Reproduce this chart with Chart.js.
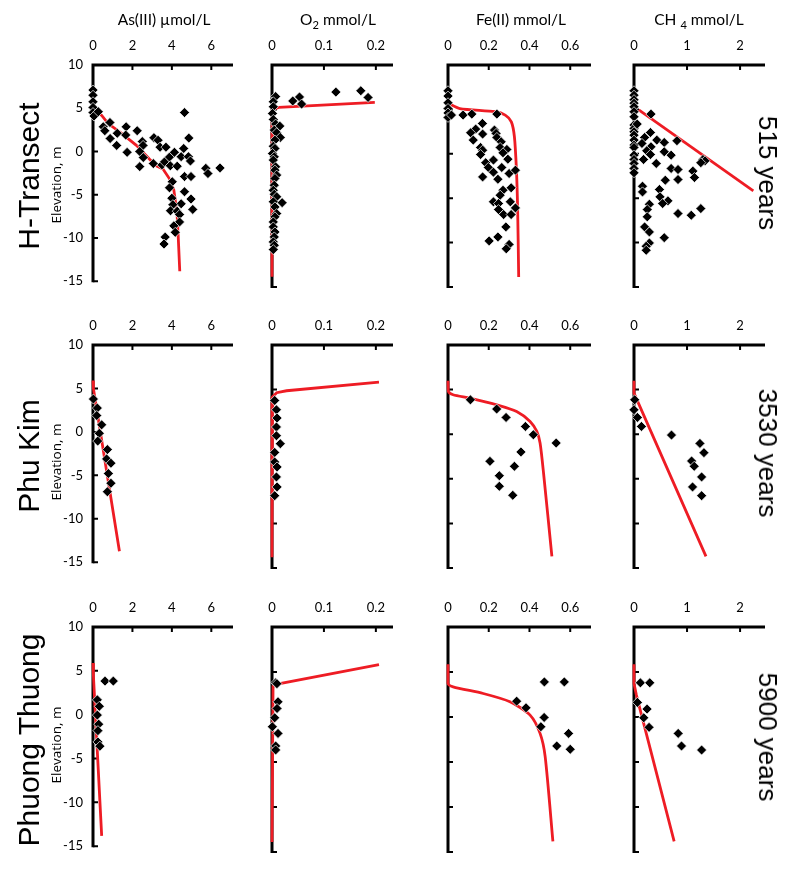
<!DOCTYPE html>
<html>
<head>
<meta charset="utf-8">
<script src="https://cdn.jsdelivr.net/npm/chart.js@4.4.1/dist/chart.umd.min.js"></script>
<style>
  html, body { margin: 0; padding: 0; background: #fff; }
  #fig { position: relative; width: 800px; height: 869px; overflow: hidden;
         font-family: Lato, "Open Sans", sans-serif; color: #000; }
  #fig canvas { position: absolute; }
  .lbl { position: absolute; white-space: nowrap; line-height: 1;
         transform: translate(-50%, -50%); }
  .rot { transform: translate(-50%, -50%) rotate(-90deg); }
  .rot90 { transform: translate(-50%, -50%) rotate(90deg); }
  .title { font-size: 15.5px; }
  .site { font-family: "Liberation Sans", Arial, sans-serif; font-size: 30px; }
  .age { font-family: "Liberation Sans", Arial, sans-serif; font-size: 26px; }
  .elev { font-family: "Open Sans", sans-serif; font-size: 13.5px; }
  sub { font-size: 72%; vertical-align: -0.3em; line-height: 0; }
</style>
</head>
<body>
<div id="fig"></div>
<script>
// ============================================================
//  Pore-water profiles: 3 sites x 4 species, points + model line
//  every pair is [concentration, elevation m]
// ============================================================

// --- labels / ticks ---
const columnTitles = ["As(III) \u00b5mol/L", "O<sub>2</sub> mmol/L", "Fe(II) mmol/L", "CH <sub>4</sub> mmol/L"];
const siteNames = ["H-Transect", "Phu Kim", "Phuong Thuong"];
const siteAges = ["515 years", "3530 years", "5900 years"];
const xTickValues = [[0, 2, 4, 6], [0, 0.1, 0.2], [0, 0.2, 0.4, 0.6], [0, 1, 2]];
const xTickLabels = [["0", "2", "4", "6"], ["0", "0.1", "0.2"], ["0", "0.2", "0.4", "0.6"], ["0", "1", "2"]];
const xMax = [7.1, 0.233, 0.702, 2.47];
const yTickValues = [10, 5, 0, -5, -10, -15];
const yMin = -15, yMax = 10;

// --- H-Transect (515 years) ---
const hAs = [[0,7.1],[0,6.5],[0,5.75],[0,5.1],[0,4.5],[0.05,4.1],[0.27,4.6],[4.64,4.5],[0.86,3.35],[0.52,2.85],
  [0.6,2.4],[1.68,2.85],[2.24,2.4],[1.23,2.1],[0.87,1.5],[1.66,1.9],[1.2,0.7],[1.73,-0.1],[2.5,1.15],[2.54,0.7],
  [2.37,0],[2.37,-1.75],[2.55,-0.7],[3.09,1.6],[3.3,1.3],[3.4,0.5],[3.7,0.5],[3.06,-1.4],[3.5,-1.55],[3.63,-1.2],
  [3.88,-0.65],[4.13,-0.1],[3.92,-1.65],[4.27,-1.7],[4.6,0.35],[4.47,-0.6],[4.84,-0.6],[4.94,-1.1],[4.86,1.55],
  [4.64,-2.9],[4.97,-2.9],[5.72,-1.95],[5.83,-2.55],[6.44,-1.9],[4.02,-3.5],[3.88,-4.2],[4.64,-4.65],[4.0,-5.4],
  [4.47,-6.05],[4.97,-5.5],[5.06,-6.7],[4.05,-6.15],[3.93,-6.85],[4.27,-6.9],[4.39,-7.3],[4.39,-8.15],[4.1,-8.6],
  [4.17,-9.35],[3.66,-9.9],[3.6,-10.7]];
const hAsFit = [[0,5.1],[0.44,4.17],[0.77,3.23],[1.45,2.1],[2.2,0.71],[2.87,-0.9],[3.21,-1.65],[3.55,-2.03],
  [3.88,-3.16],[4.1,-4.47],[4.17,-5.6],[4.27,-7.48],[4.3,-9.2],[4.32,-9.74],[4.4,-13.85]];
const hO2 = [[0.007,6.45],[0.04,5.95],[0.053,6.4],[0.057,5.6],[0.123,6.95],[0.171,7.1],[0.185,6.35],
  [0.0025,5.86],[0.0025,5.3],[0.001,4.55],[0.0025,3.87],[0.007,3.35],[0.015,3.12],[0.0044,2.67],[0.009,2.37],
  [0.016,1.84],[0.0057,1.54],[0.0025,0.86],[0.0057,0.6],[0.001,0.04],[0.0044,-0.34],[0.0025,-0.71],[0.007,-1.47],
  [0.0057,-1.84],[0.009,-2.4],[0.0057,-2.78],[0.0044,-3.53],[0.0025,-4.1],[0.0044,-4.55],[0.009,-4.85],
  [0.0025,-5.4],[0.0195,-5.5],[0.0057,-5.98],[0.009,-6.73],[0.0057,-7.1],[0.0025,-7.67],[0.0025,-8.23],
  [0.0057,-8.8],[0.0044,-9.36],[0.0025,-9.92],[0.0044,-10.3],[0.0025,-10.79]];
const hO2Fit = [[0.198,5.8],[0.013,5.22],[0.001,5.0],[0,-13.85]];
const hFe = [[0,7.1],[0,6.5],[0,5.75],[0,5.1],[0,4.6],[0,4.1],[0.017,4.36],[0.074,4.36],[0.117,4.47],[0.24,4.47],
  [0.169,3.42],[0.136,2.78],[0.111,2.37],[0.17,2.22],[0.124,1.54],[0.228,2.67],[0.236,2.3],[0.24,1.84],
  [0.261,1.35],[0.16,0.71],[0.17,0.41],[0.16,-0.08],[0.256,0.71],[0.289,0.49],[0.27,0.11],[0.294,-0.6],
  [0.223,-0.71],[0.185,-1.0],[0.198,-1.54],[0.264,-1.54],[0.223,-2.07],[0.3,-2.22],[0.331,-1.84],[0.17,-2.6],
  [0.245,-2.86],[0.27,-4.1],[0.31,-3.83],[0.256,-4.66],[0.223,-5.41],[0.248,-5.6],[0.306,-5.41],[0.331,-6.09],
  [0.248,-6.28],[0.273,-6.84],[0.31,-6.84],[0.284,-8.23],[0.245,-9.36],[0.202,-9.81],[0.3,-10.2],[0.286,-10.7]];
const hFeFit = [[0,5.7],[0.058,5.1],[0.231,4.74],[0.281,4.36],[0.311,3.6],[0.326,1.92],[0.336,-1.84],
  [0.342,-6.35],[0.347,-13.87]];
const hCh4 = [[0,7.1],[0,6.6],[0,6.1],[0,5.7],[0,5.3],[0,4.74],[0,4.17],[0,3.23],[0,2.86],[0,2.48],[0,2.1],
  [0,1.54],[0,0.98],[0,0.71],[0,-0.15],[0,-0.64],[0,-1.09],[0,-1.65],[0,-2.14],
  [0.32,4.47],[0.06,3.35],[0.31,2.4],[0.2,1.84],[0.43,1.54],[0.57,1.28],[0.81,1.47],[0.15,1.17],[0.32,0.79],
  [0.24,0.34],[0.57,0.23],[0.7,-0.15],[0.31,-0.08],[0.18,-0.64],[0.42,-1.09],[0.7,-1.65],[0.83,-1.77],
  [0.83,-2.9],[0.59,-2.97],[1.11,-1.95],[1.14,-2.67],[1.3,-0.64],[1.34,-0.79],[1.26,-1.0],[0.16,-3.65],
  [0.16,-4.29],[0.48,-4.02],[0.49,-4.85],[0.64,-5.3],[0.54,-5.6],[0.29,-5.68],[0.25,-6.28],[0.25,-7.1],
  [0.83,-6.73],[1.08,-6.92],[1.26,-6.17],[0.2,-8.23],[0.29,-8.8],[0.57,-9.44],[0.29,-10.04],[0.23,-10.41],
  [0.23,-10.86]];
const hCh4Fit = [[0.09,4.94],[2.25,-4.17]];

// --- Phu Kim (3530 years) ---
const pAs = [[0.02,3.78],[0.22,2.74],[0.19,1.88],[0.44,0.81],[0.32,-0.17],[0.24,-1.06],[0.73,-2.04],
  [0.69,-3.11],[0.91,-3.6],[0.78,-4.79],[0.91,-5.91],[0.73,-6.89]];
const pAsFit = [[0,5.9],[0.02,5.0],[1.34,-13.75]];
const pO2 = [[0.0052,3.78],[0.0085,2.74],[0.0097,1.81],[0.0085,0.81],[0.0085,-0.17],[0.016,-1.06],
  [0.0052,-2.04],[0.0052,-3.11],[0.0097,-3.67],[0.0085,-4.79],[0.0097,-5.91],[0.0052,-6.89]];
const pO2Fit = [[0.206,5.84],[0.028,4.87],[0.009,4.65],[0.001,4.2],[0,-13.8]];
const pFe = [[0.11,3.86],[0.239,2.82],[0.285,1.88],[0.38,0.87],[0.419,-0.06],[0.531,-0.99],[0.358,-1.99],
  [0.206,-3.04],[0.326,-3.6],[0.252,-4.65],[0.252,-5.84],[0.318,-6.85]];
const pFeFit = [[0,6.0],[0.002,4.79],[0.025,4.42],[0.107,4.05],[0.239,3.3],[0.337,2.55],[0.403,1.43],
  [0.436,0.31],[0.452,-0.99],[0.469,-4.35],[0.51,-13.7]];
const pCh4 = [[0.013,3.86],[0,2.74],[0.064,1.88],[0.14,0.87],[0.707,-0.1],[1.243,-1.03],[1.319,-2.07],
  [1.086,-3.0],[1.135,-3.6],[1.275,-4.79],[1.104,-5.91],[1.275,-6.89]];
const pCh4Fit = [[0,6.0],[0,4.6],[1.357,-13.7]];

// --- Phuong Thuong (5900 years) ---
const tAs = [[0.61,3.83],[1.03,3.83],[0.22,1.69],[0.32,0.95],[0.22,-0.05],[0.29,-1.08],[0.25,-1.82],
  [0.25,-3.11],[0.35,-3.59]];
const tAsFit = [[0,5.9],[0.02,4.5],[0.44,-13.83]];
const tO2 = [[0.0071,3.8],[0.0095,3.7],[0.0116,1.69],[0.0097,0.95],[0.0052,-0.09],[0.0007,-1.08],
  [0.0116,-1.82],[0.0071,-3.22],[0.0071,-3.66]];
const tO2Fit = [[0.206,5.83],[0.01,3.65],[0.002,3.4],[0,-13.9]];
const tFe = [[0.473,3.9],[0.571,3.9],[0.337,1.76],[0.383,1.02],[0.472,-0.05],[0.456,-1.08],[0.592,-1.82],
  [0.534,-3.22],[0.6,-3.59]];
const tFeFit = [[0,5.86],[0,3.72],[0.025,3.35],[0.173,2.61],[0.304,1.69],[0.403,0.21],[0.452,-1.82],
  [0.477,-4.41],[0.515,-13.83]];
const tCh4 = [[0.12,3.8],[0.297,3.8],[0.064,1.62],[0.246,0.88],[0.184,-0.09],[0.284,-1.15],[0.833,-1.82],
  [0.896,-3.22],[1.275,-3.67]];
const tCh4Fit = [[0,5.86],[0,3.72],[0.045,2.43],[0.757,-13.83]];

const panels = [
  [[hAs, hAsFit], [hO2, hO2Fit], [hFe, hFeFit], [hCh4, hCh4Fit]],
  [[pAs, pAsFit], [pO2, pO2Fit], [pFe, pFeFit], [pCh4, pCh4Fit]],
  [[tAs, tAsFit], [tO2, tO2Fit], [tFe, tFeFit], [tCh4, tCh4Fit]],
];

// --- layout (page pixels of the axis corners) ---
const colLeft = [93, 272, 448, 634];
const colRight = [233, 393, 591, 765];
const rowTop = [65, 345, 627];
const rowBottom = [287, 568, 852];
const PAD_L = 50, PAD_T = 40, PAD_R = 12, PAD_B = 12;
const titleX = [164, 338, 521, 699];
const rowMid = [176, 456, 740];
const elevMid = [185, 462, 745];

const fig = document.getElementById("fig");
const toXY = (arr) => arr.map((p) => ({ x: p[0], y: p[1] }));

// axis lines with inward ticks, drawn under the markers
const frame = {
  id: "frame",
  beforeDatasetsDraw(chart) {
    const { ctx, scales: { x, y } } = chart;
    const left = x.getPixelForValue(0), right = x.getPixelForValue(x.max);
    const top = y.getPixelForValue(yMax), bottom = y.getPixelForValue(yMin);
    ctx.save();
    ctx.strokeStyle = "#000";
    ctx.lineJoin = "miter";
    ctx.lineWidth = 3;
    ctx.beginPath();
    ctx.moveTo(left, bottom + 1);
    ctx.lineTo(left, top);
    ctx.lineTo(right, top);
    ctx.stroke();
    ctx.lineWidth = 2;
    ctx.beginPath();
    x.ticks.forEach((t) => {
      if (t.value === 0) return;
      const px = x.getPixelForValue(t.value);
      ctx.moveTo(px, top); ctx.lineTo(px, top + 5);
    });
    y.ticks.forEach((t) => {
      if (t.value === yMax) return;
      const py = y.getPixelForValue(t.value);
      ctx.moveTo(left, py); ctx.lineTo(left + 5, py);
    });
    ctx.stroke();
    ctx.restore();
  },
};

function addLabel(html, cls, x, y) {
  const d = document.createElement("div");
  d.className = "lbl " + cls;
  d.innerHTML = html;
  d.style.left = x + "px";
  d.style.top = y + "px";
  fig.appendChild(d);
}

function makePanel(row, col) {
  const [pts, fit] = panels[row][col];
  const w = colRight[col] - colLeft[col] + PAD_L + PAD_R;
  const h = rowBottom[row] - rowTop[row] + PAD_T + PAD_B;
  const cv = document.createElement("canvas");
  cv.width = w; cv.height = h;
  cv.style.width = w + "px"; cv.style.height = h + "px";
  cv.style.left = (colLeft[col] - PAD_L) + "px";
  cv.style.top = (rowTop[row] - PAD_T) + "px";
  fig.appendChild(cv);

  const tickFont = { family: "Lato", size: 13 };
  new Chart(cv, {
    type: "scatter",
    data: {
      datasets: [
        {
          data: toXY(pts),
          pointStyle: "rectRot",
          pointRadius: 5,
          backgroundColor: "#000",
          borderColor: "#fff",
          borderWidth: 0.7,
          clip: false,
          order: 0,
        },
        {
          data: toXY(fit),
          showLine: true,
          pointRadius: 0,
          borderColor: "#ee1c24",
          borderWidth: 2.8,
          tension: col === 2 ? 0.25 : 0,
          clip: false,
          order: 1,
        },
      ],
    },
    options: {
      responsive: false,
      animation: false,
      devicePixelRatio: 1,
      events: [],
      layout: { padding: { left: 0, top: 0, right: PAD_R, bottom: PAD_B } },
      plugins: { legend: { display: false }, tooltip: { enabled: false } },
      scales: {
        x: {
          type: "linear",
          position: "top",
          min: 0,
          max: xMax[col],
          afterBuildTicks: (s) => { s.ticks = xTickValues[col].map((v) => ({ value: v })); },
          afterFit: (s) => { s.height = PAD_T; },
          grid: { display: false, drawTicks: false },
          border: { display: false },
          ticks: {
            autoSkip: false, maxRotation: 0, padding: 11, color: "#000", font: tickFont,
            callback: (v, i) => xTickLabels[col][i],
          },
        },
        y: {
          type: "linear",
          min: yMin,
          max: yMax,
          afterBuildTicks: (s) => { s.ticks = yTickValues.map((v) => ({ value: v })); },
          afterFit: (s) => { s.width = PAD_L; },
          grid: { display: false, drawTicks: false },
          border: { display: false },
          ticks: {
            display: col === 0, padding: 10, color: "#000", font: tickFont,
            callback: (v) => String(v),
          },
        },
      },
    },
    plugins: [frame],
  });
}

// --- Init ---
for (let r = 0; r < 3; r++) {
  for (let c = 0; c < 4; c++) makePanel(r, c);
  addLabel(siteNames[r], "site rot", 29, rowMid[r]);
  addLabel("Elevation, m", "elev rot", 57, elevMid[r]);
  addLabel(siteAges[r], "age rot90", 768, rowMid[r] - 3);
}
columnTitles.forEach((t, c) => addLabel(t, "title", titleX[c], 20));
</script>
</body>
</html>
